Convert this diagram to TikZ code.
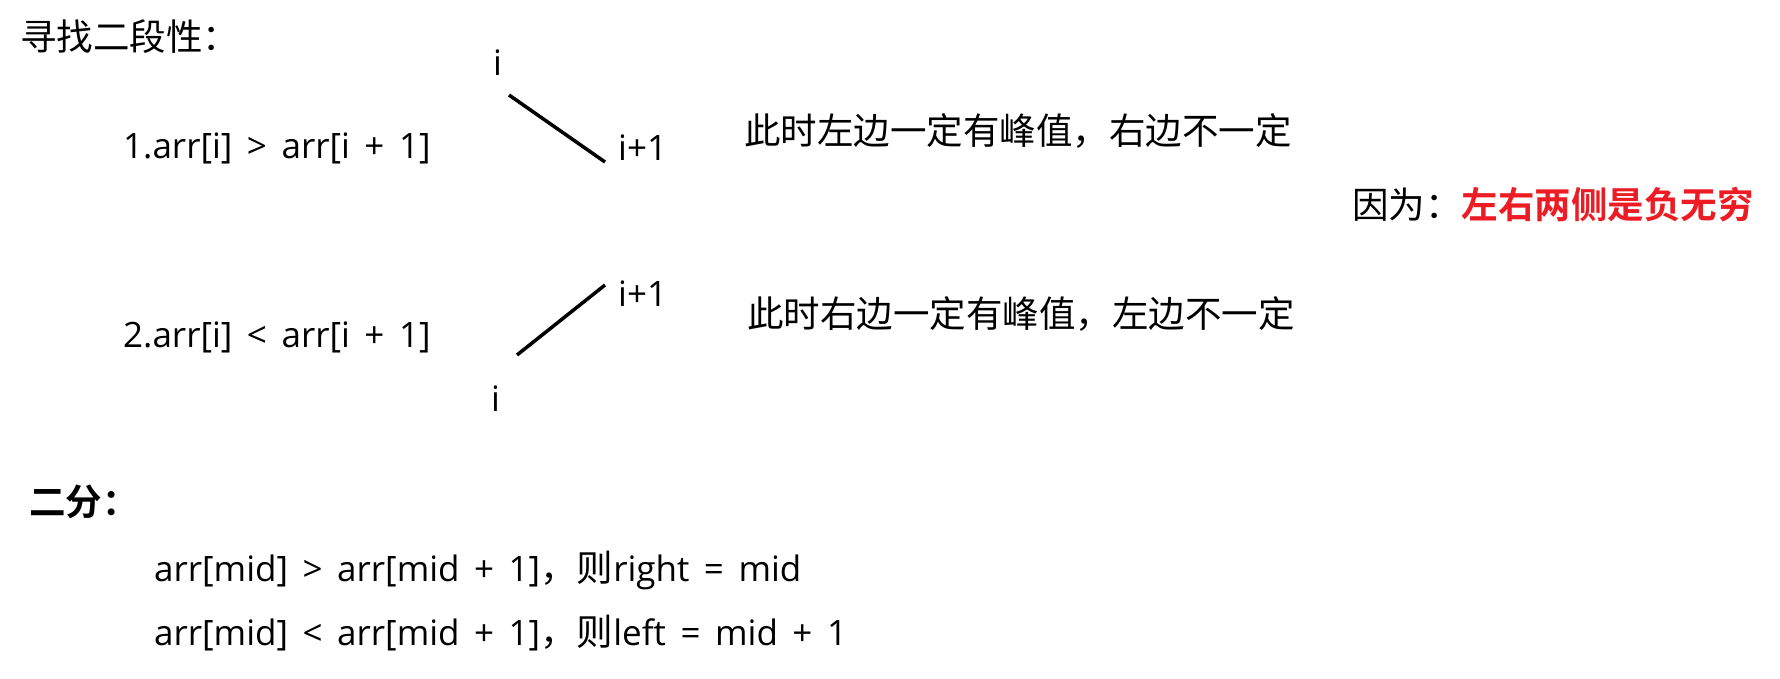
\documentclass[tikz,border=0pt]{standalone}
\usepackage{fontspec}
\setmainfont{Open Sans}[WordSpace=1.6]
\newfontfamily\cjk{Noto Sans CJK SC}
\newfontfamily\cjkbold{Noto Sans CJK SC Bold}
\newcommand{\cj}[1]{{\cjk\fontsize{36.5}{40}\selectfont #1}}
\begin{document}
\begin{tikzpicture}[x=1pt,y=-1pt,
  t/.style={anchor=west,inner sep=0pt,font=\fontsize{35}{40}\selectfont},
  ln/.style={line width=3.5pt}]
\useasboundingbox[fill=white] (0,0) rectangle (1780,678);
\node[t] (h) at (20,37) {\cj{寻找二段性：}};
\node[t] (c1) at (123,148) {1.arr[i] > arr[i + 1]};
\node[t] (a1) at (493,63) {i};
\node[t] (b1) at (618,148) {i+1};
\coordinate (p1) at (509,95);
\coordinate (q1) at (605,162);
\draw[ln] (p1) -- (q1);
\node[t] (d1) at (744,131) {\cj{此时左边一定有峰值，右边不一定}};
\node[t] (r) at (1352,205) {\cj{因为：{\cjkbold\color[RGB]{237,28,36}左右两侧是负无穷}}};
\node[t] (c2) at (123,337) {2.arr[i] < arr[i + 1]};
\coordinate (p2) at (517,355);
\coordinate (q2) at (605,285);
\draw[ln] (p2) -- (q2);
\node[t] (b2) at (618,294) {i+1};
\node[t] (a2) at (491,399) {i};
\node[t] (d2) at (747,314) {\cj{此时右边一定有峰值，左边不一定}};
\node[t] (e) at (29,502) {\cj{\cjkbold 二分：}};
\node[t] (f1) at (154,570) {arr[mid] > arr[mid + 1]\cj{，则}right = mid};
\node[t] (f2) at (154,633) {arr[mid] < arr[mid + 1]\cj{，则}left = mid + 1};
\end{tikzpicture}
\end{document}
